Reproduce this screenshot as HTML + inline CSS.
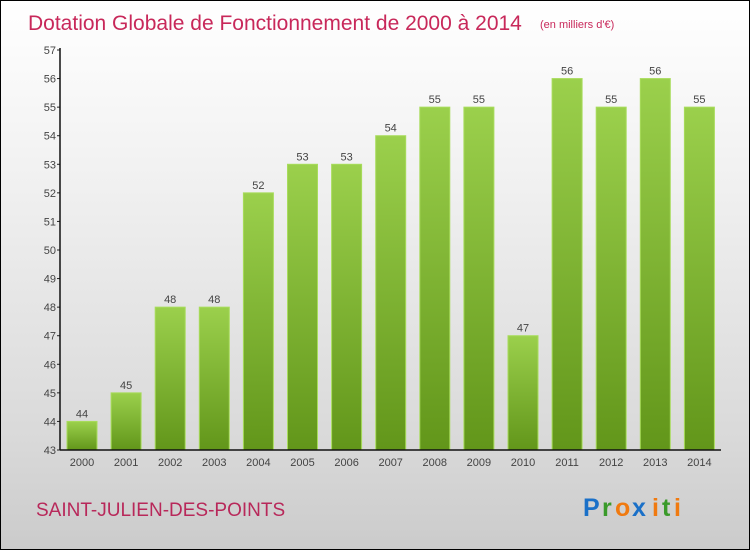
<!DOCTYPE html>
<html><head><meta charset="utf-8"><style>
body{margin:0}
#wrap{width:748px;height:548px;border:1px solid #000;background:linear-gradient(#fff,#f2f2f2 30%,#d9d9d9 80%,#cbcbcb);position:relative;overflow:hidden;font-family:"Liberation Sans",sans-serif}
</style></head><body>
<div id="wrap">
<svg width="748" height="548">
<defs><linearGradient id="g" x1="0" y1="0" x2="0" y2="1"><stop offset="0" stop-color="#9bd04c"/><stop offset="1" stop-color="#62961a"/></linearGradient></defs>
<text x="27" y="29" font-size="21" fill="#c8285a">Dotation Globale de Fonctionnement de 2000 à 2014</text>
<text x="539" y="27" font-size="11" fill="#c8285a">(en milliers d'€)</text>
<g id="plot"></g>
<text x="35" y="515" font-size="19" fill="#b8285a">SAINT-JULIEN-DES-POINTS</text>
<g font-size="25" font-weight="bold"><text x="582" y="515" fill="#1a70c8">P</text><text x="601" y="515" fill="#3a9a2a">r</text><text x="614" y="515" fill="#f07a10">o</text><text x="631" y="515" fill="#1a70c8">x</text><text x="651" y="515" fill="#f07a10">i</text><text x="661" y="515" fill="#3a9a2a">t</text><text x="673" y="515" fill="#f07a10">i</text></g>
</svg></div>
<script>
const years=["2000","2001","2002","2003","2004","2005","2006","2007","2008","2009","2010","2011","2012","2013","2014"];
const values=[44,45,48,48,52,53,53,54,55,55,47,56,55,56,55];
const yTicks=[43,44,45,46,47,48,49,50,51,52,53,54,55,56,57];
const NS="http://www.w3.org/2000/svg";
const g=document.getElementById('plot');
const y0=449,yTop=49,vmin=43,vmax=57,x0=59,step=44.1;
const Y=v=>y0-(v-vmin)/(vmax-vmin)*(y0-yTop);
const X=i=>x0+22+i*step;
function el(t,a){const e=document.createElementNS(NS,t);for(const k in a)e.setAttribute(k,a[k]);g.appendChild(e);return e;}
yTicks.forEach(v=>{
 const l=el('line',{x1:x0-3,x2:x0,y1:Y(v),y2:Y(v),stroke:'#222'});
 
 
 const t=el('text',{x:x0-4,y:Y(v)+4,'text-anchor':'end','font-size':11,fill:'#444'});t.textContent=v;
 
 
});
values.forEach((v,i)=>{
 const r=el('rect',{x:X(i)-15,y:Y(v),width:30,height:y0-Y(v),fill:'url(#g)',stroke:'#a8dc5c','stroke-width':1});
 
 
 const t=el('text',{x:X(i),y:Y(v)-4,'text-anchor':'middle','font-size':11,fill:'#444'});t.textContent=v;
 
 
 const t2=el('text',{x:X(i),y:y0+16,'text-anchor':'middle','font-size':11,fill:'#444'});t2.textContent=years[i];
 
 
});
const ya=el('line',{x1:x0,x2:x0,y1:yTop-2,y2:y0,stroke:'#111','stroke-width':1.5});


const xa=el('line',{x1:x0,x2:720,y1:y0,y2:y0,stroke:'#111','stroke-width':1.5});


</script>
</body></html>
